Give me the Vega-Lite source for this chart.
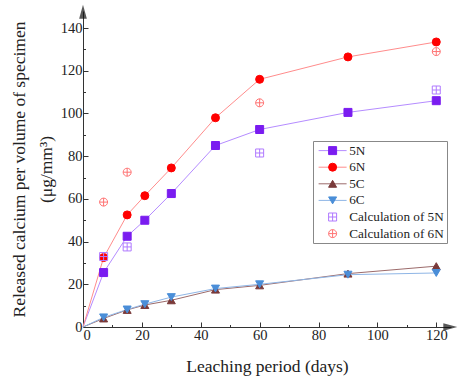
{
  "$schema": "https://vega.github.io/schema/vega-lite/v6.json",
  "autosize": "none",
  "width": 368,
  "height": 316,
  "padding": {"left": 83, "top": 11, "right": 9, "bottom": 51},
  "background": "white",
  "config": {
    "font": "Liberation Serif, Times New Roman, serif",
    "view": {"stroke": null},
    "legend": {"labelFont": "Liberation Serif, Times New Roman, serif"},
    "axis": {
      "grid": false,
      "domainColor": "#333",
      "tickColor": "#333",
      "labelColor": "#222",
      "titleColor": "#222",
      "labelFont": "Liberation Serif, Times New Roman, serif",
      "titleFont": "Liberation Serif, Times New Roman, serif",
      "labelFontSize": 14.5,
      "titleFontSize": 17.5,
      "titleFontWeight": "normal"
    }
  },
  "datasets": {
    "main": [
      {"series": "5N", "day": 0, "value": 0},
      {"series": "5N", "day": 7, "value": 25.5},
      {"series": "5N", "day": 15, "value": 42.5},
      {"series": "5N", "day": 21, "value": 50},
      {"series": "5N", "day": 30, "value": 62.5},
      {"series": "5N", "day": 45, "value": 85},
      {"series": "5N", "day": 60, "value": 92.5},
      {"series": "5N", "day": 90, "value": 100.5},
      {"series": "5N", "day": 120, "value": 106},
      {"series": "6N", "day": 0, "value": 0},
      {"series": "6N", "day": 7, "value": 32.5},
      {"series": "6N", "day": 15, "value": 52.5},
      {"series": "6N", "day": 21, "value": 61.5},
      {"series": "6N", "day": 30, "value": 74.5},
      {"series": "6N", "day": 45, "value": 98},
      {"series": "6N", "day": 60, "value": 116},
      {"series": "6N", "day": 90, "value": 126.5},
      {"series": "6N", "day": 120, "value": 133.5},
      {"series": "5C", "day": 0, "value": 0},
      {"series": "5C", "day": 7, "value": 4},
      {"series": "5C", "day": 15, "value": 8},
      {"series": "5C", "day": 21, "value": 10.3},
      {"series": "5C", "day": 30, "value": 12.5},
      {"series": "5C", "day": 45, "value": 17.5},
      {"series": "5C", "day": 60, "value": 19.5},
      {"series": "5C", "day": 90, "value": 25},
      {"series": "5C", "day": 120, "value": 28.5},
      {"series": "6C", "day": 0, "value": 0},
      {"series": "6C", "day": 7, "value": 4.5},
      {"series": "6C", "day": 15, "value": 8.2},
      {"series": "6C", "day": 21, "value": 10.7},
      {"series": "6C", "day": 30, "value": 14},
      {"series": "6C", "day": 45, "value": 18},
      {"series": "6C", "day": 60, "value": 20},
      {"series": "6C", "day": 90, "value": 24.5},
      {"series": "6C", "day": 120, "value": 25.3},
      {"series": "Calculation of 5N", "day": 7, "value": 33},
      {"series": "Calculation of 5N", "day": 15, "value": 37.5},
      {"series": "Calculation of 5N", "day": 60, "value": 81.5},
      {"series": "Calculation of 5N", "day": 120, "value": 111},
      {"series": "Calculation of 6N", "day": 7, "value": 58.5},
      {"series": "Calculation of 6N", "day": 15, "value": 72.5},
      {"series": "Calculation of 6N", "day": 60, "value": 105},
      {"series": "Calculation of 6N", "day": 120, "value": 129}
    ]
  },
  "encoding": {
    "x": {
      "field": "day",
      "type": "quantitative",
      "scale": {"domain": [0, 125], "nice": false},
      "axis": {
        "title": "Leaching period (days)",
        "values": [0, 10, 20, 30, 40, 50, 60, 70, 80, 90, 100, 110, 120],
        "labelExpr": "datum.value % 20 === 0 ? datum.label : ''",
        "tickSize": {"condition": {"test": "datum.value % 20 === 0", "value": -5}, "value": -2.5},
        "labelPadding": 6,
        "titlePadding": 16
      }
    },
    "y": {
      "field": "value",
      "type": "quantitative",
      "scale": {"domain": [0, 148], "nice": false},
      "axis": {
        "title": ["Released calcium per volume of specimen", "(μg/mm³)"],
        "titleLineHeight": 27,
        "values": [0, 10, 20, 30, 40, 50, 60, 70, 80, 90, 100, 110, 120, 130, 140],
        "labelExpr": "datum.value % 20 === 0 ? datum.label : ''",
        "tickSize": {"condition": {"test": "datum.value % 20 === 0", "value": -5}, "value": -2.5},
        "labelPadding": 6,
        "titlePadding": 5
      }
    }
  },
  "layer": [
    {
      "data": {"name": "main"},
      "transform": [{"filter": "indexof(['5N','6N','5C','6C'], datum.series) >= 0"}],
      "mark": {"type": "line", "strokeWidth": 1},
      "encoding": {
        "detail": {"field": "series"},
        "color": {
          "field": "series",
          "type": "nominal",
          "scale": {"domain": ["5N", "6N", "5C", "6C"], "range": ["#b58cff", "#ff8c8c", "#9c6b6b", "#8fb6e6"]},
          "legend": {
            "title": null,
            "orient": "none",
            "legendX": 230,
            "legendY": 130,
            "padding": 3,
            "symbolOffset": 10,
            "labelFont": "Liberation Serif, Times New Roman, serif",
            "labelFontSize": 13.2,
            "labelColor": "transparent",
            "symbolSize": 64,
            "symbolType": "M-3.5,0H3.5",
            "symbolStrokeWidth": 1,
            "labelOffset": 10,
            "rowPadding": 2.6
          }
        }
      }
    },
    {
      "data": {"name": "main"},
      "transform": [{"filter": "datum.day > 0"}],
      "mark": {"type": "point", "filled": true, "size": 64, "strokeWidth": 1, "opacity": 1},
      "encoding": {
        "shape": {
          "field": "series",
          "type": "nominal",
          "scale": {
            "domain": ["5N", "6N", "5C", "6C", "Calculation of 5N", "Calculation of 6N"],
            "range": ["square", "circle", "triangle-up", "triangle-down", "M-1,-1H1V1H-1ZM0,-1V1M-1,0H1", "M-1,0A1,1,0,1,1,1,0A1,1,0,1,1,-1,0ZM0,-1V1M-1,0H1"]
          },
          "legend": {
            "title": null,
            "orient": "none",
            "legendX": 230,
            "legendY": 130,
            "strokeColor": "#888",
            "padding": 3,
            "symbolOffset": 10,
            "labelFont": "Liberation Serif, Times New Roman, serif",
            "labelFontSize": 13.2,
            "labelColor": "#222",
            "symbolSize": 64,
            "symbolStrokeWidth": 1,
            "labelOffset": 10,
            "rowPadding": 2.6
          }
        },
        "fill": {
          "field": "series",
          "type": "nominal",
          "scale": {
            "domain": ["5N", "6N", "5C", "6C", "Calculation of 5N", "Calculation of 6N"],
            "range": ["#7a1cf0", "#ff0000", "#7a3a3a", "#4a8ed8", "transparent", "transparent"]
          }
        },
        "stroke": {
          "field": "series",
          "type": "nominal",
          "scale": {
            "domain": ["5N", "6N", "5C", "6C", "Calculation of 5N", "Calculation of 6N"],
            "range": ["#7a1cf0", "#ff0000", "#7a3a3a", "#4a8ed8", "#b07aff", "#ff7373"]
          }
        }
      }
    },
    {
      "data": {"values": [{"day": 0, "value": 148}]},
      "mark": {"type": "point", "filled": true, "color": "#111", "size": 196, "shape": "M-0.55,1.1L0,-0.9L0.55,1.1Z", "strokeWidth": 0}
    },
    {
      "data": {"values": [{"day": 125, "value": 0}]},
      "mark": {"type": "point", "filled": true, "color": "#111", "size": 196, "shape": "M-1.1,-0.55L0.9,0L-1.1,0.55Z", "strokeWidth": 0}
    }
  ]
}
